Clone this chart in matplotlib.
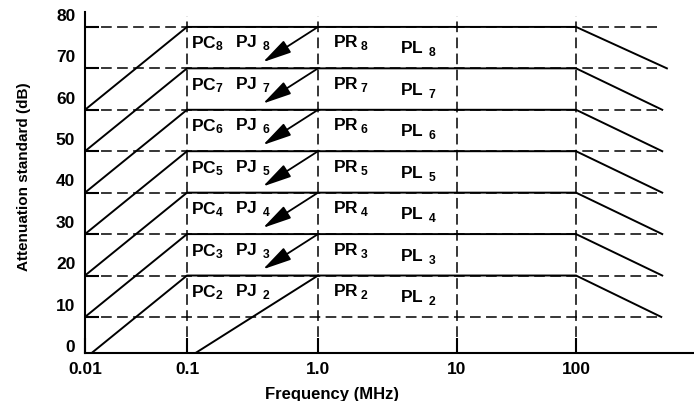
import numpy as np
import matplotlib
matplotlib.use('Agg')
import matplotlib.pyplot as plt

plt.rcParams['font.family'] = ['Liberation Sans', 'DejaVu Sans']
plt.rcParams['font.weight'] = 'bold'
plt.rcParams['axes.labelweight'] = 'bold'
plt.rcParams['mathtext.fontset'] = 'custom'
plt.rcParams['mathtext.rm'] = 'Liberation Sans:bold'
plt.rcParams['mathtext.bf'] = 'Liberation Sans:bold'

# --- data ---
classes = [2, 3, 4, 5, 6, 7, 8]
levels_db = [20, 30, 40, 50, 60, 70, 80]          # flat attenuation per class
start_db = [0, 10, 20, 30, 40, 50, 60]            # value at 0.01 MHz
f_start, f_lo, f_hi = 0.01, 0.1, 100.0
rolloff_end_mhz = [520, 530, 530, 530, 530, 530, 580]
rolloff_drop_db = 10
pj2_freq = [0.1, 1.0]
pj2_db = [0, 20]
arrow_tip_mhz = 0.38
arrow_drop_db = 8.5

grid_db = [10, 20, 30, 40, 50, 60, 70, 80]
grid_freq = [0.1, 1.0, 10, 100]
grid_end_mhz = 480
grid_top_db = 82.7

xticks = [0.01, 0.1, 1.0, 10, 100]
xtick_labels = ['0.01', '0.1', '1.0', '10', '100']
yvals = [0, 10, 20, 30, 40, 50, 60, 70, 80]

# the printed decades are not evenly spaced; warp the log axis to match
dec_log = np.array([-3, -2, -1, 0, 1, 2, 3, 4])
dec_pos = np.array([-17, 85, 187, 318, 457, 576, 695, 814], dtype=float)


def fwd(x):
    x = np.asarray(x, dtype=float)
    return np.interp(np.log10(np.clip(x, 1e-6, None)), dec_log, dec_pos)


def inv(u):
    return 10 ** np.interp(np.asarray(u, dtype=float), dec_pos, dec_log)


fig = plt.figure(figsize=(6.94, 4.02), dpi=100)
ax = fig.add_axes([85 / 694, 48 / 402, 609 / 694, 341 / 402])
ax.set_xscale('function', functions=(fwd, inv))
ax.set_xlim(0.01, 980)
ax.set_ylim(1.3, 83.6)

# dashed grid
ax.hlines(grid_db, f_start, grid_end_mhz, colors='black', linestyles=(0, (7, 3.5)), lw=1.1, zorder=1)
ax.vlines(grid_freq, 1.3, grid_top_db, colors='black', linestyles=(0, (7, 3.5)), lw=1.1, zorder=1)

# solid curves
for L, s, fe in zip(levels_db, start_db, rolloff_end_mhz):
    ax.plot([f_start, f_lo, f_hi, fe], [s, L, L, L - rolloff_drop_db],
            color='black', lw=1.4, zorder=3, solid_joinstyle='miter')
ax.plot(pj2_freq, pj2_db, color='black', lw=1.4, zorder=3)

# arrows and labels
for n, L in zip(classes, levels_db):
    if n > 2:
        ax.annotate('', xy=(arrow_tip_mhz, L - arrow_drop_db), xytext=(1.0, L),
                    arrowprops=dict(arrowstyle='-|>,head_length=1.35,head_width=0.33',
                                    mutation_scale=13, color='black', lw=1.3,
                                    shrinkA=0, shrinkB=0), zorder=4)
    ax.annotate(r'$\mathrm{PC_{%d}}$' % n, xy=(0.108, L), xytext=(0, -15),
                textcoords='offset points', fontsize=12.5, va='baseline', ha='left')
    ax.annotate(r'$\mathrm{PJ}\ {}_{\mathrm{%d}}$' % n, xy=(0.232, L), xytext=(0, -14),
                textcoords='offset points', fontsize=12.5, va='baseline', ha='left')
    ax.annotate(r'$\mathrm{PR}\,{}_{\mathrm{%d}}$' % n, xy=(1.28, L), xytext=(0, -14),
                textcoords='offset points', fontsize=12.5, va='baseline', ha='left')
    ax.annotate(r'$\mathrm{PL}\ {}_{\mathrm{%d}}$' % n, xy=(3.89, L), xytext=(0, -18.4),
                textcoords='offset points', fontsize=12.5, va='baseline', ha='left')

# axes styling
for side in ['top', 'right']:
    ax.spines[side].set_visible(False)
for side in ['left', 'bottom']:
    ax.spines[side].set_linewidth(1.5)

ax.set_xticks(xticks, xtick_labels)
ax.tick_params(axis='x', direction='in', length=11, width=1.5, labelsize=12.5, pad=6)
ax.set_xticks([], minor=True)

ax.set_yticks(np.array(yvals) + 3.2, [str(v) for v in yvals])
ax.set_yticks(grid_db, minor=True)
ax.tick_params(axis='y', which='major', length=0, labelsize=12.5, pad=7)
ax.tick_params(axis='y', which='minor', direction='in', length=10, width=1.5)

ax.set_xlabel('Frequency (MHz)', fontsize=12, fontweight='bold', va='baseline')
ax.xaxis.set_label_coords(0.405, -0.132)
ax.set_ylabel('Attenuation standard (dB)', fontsize=11, fontweight='bold', va='center')
ax.yaxis.set_label_coords(-0.100, 0.519)

fig.savefig('out.png', dpi=100)
